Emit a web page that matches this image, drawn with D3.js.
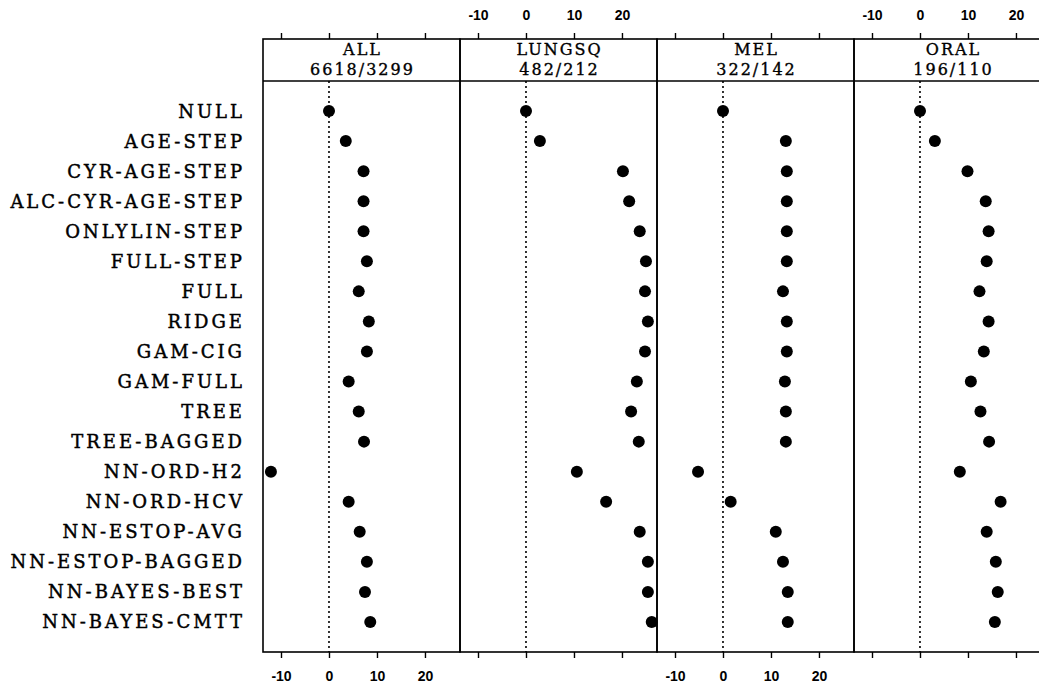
<!DOCTYPE html>
<html>
<head>
<meta charset="utf-8">
<script src="https://cdn.jsdelivr.net/npm/d3@7"></script>
<style>
  body { margin: 0; background: #fff; }
  svg { display: block; }
  .row-label { font-family: "DejaVu Serif", serif; font-size: 18px; letter-spacing: 3px; stroke: #000; stroke-width: 0.45px; }
  .strip { font-family: "DejaVu Serif", serif; font-size: 16px; letter-spacing: 2px; stroke: #000; stroke-width: 0.35px; }
  .tick text { font-family: "Liberation Sans", Arial, sans-serif; font-size: 14px; font-weight: bold; }
</style>
</head>
<body>
<svg id="chart" width="1039" height="689"></svg>
<script>
const methods = [
    'NULL', 'AGE-STEP', 'CYR-AGE-STEP', 'ALC-CYR-AGE-STEP', 'ONLYLIN-STEP',
    'FULL-STEP', 'FULL', 'RIDGE', 'GAM-CIG', 'GAM-FULL', 'TREE', 'TREE-BAGGED',
    'NN-ORD-H2', 'NN-ORD-HCV', 'NN-ESTOP-AVG', 'NN-ESTOP-BAGGED',
    'NN-BAYES-BEST', 'NN-BAYES-CMTT'
];
const panelNames = ['ALL', 'LUNGSQ', 'MEL', 'ORAL'];
const panelCounts = ['6618/3299', '482/212', '322/142', '196/110'];

const allValues = [0, 3.5, 7.2, 7.2, 7.2, 7.9, 6.2, 8.3, 7.9, 4.1, 6.2, 7.3, -12.1, 4.1, 6.4, 7.9, 7.5, 8.6];
const lungsqValues = [0, 2.9, 20.2, 21.5, 23.7, 25.0, 24.8, 25.4, 24.8, 23.1, 21.9, 23.5, 10.6, 16.7, 23.7, 25.4, 25.4, 26.2];
const melValues = [0, 13.1, 13.3, 13.3, 13.3, 13.3, 12.5, 13.3, 13.3, 12.9, 13.1, 13.1, -5.2, 1.6, 11.0, 12.5, 13.5, 13.5];
const oralValues = [0, 3.1, 9.9, 13.7, 14.3, 13.9, 12.4, 14.3, 13.3, 10.6, 12.6, 14.4, 8.3, 16.8, 13.9, 15.8, 16.2, 15.6];

const xTicks = [-10, 0, 10, 20];
const xDomain = [-13.75, 27.3];

const panelValues = [allValues, lungsqValues, melValues, oralValues];

const svg = d3.select('#chart');
const firstLeft = 263;
const panelWidth = 197;
const frameTop = 39;
const stripBottom = 81;
const frameBottom = 652;

const yScale = d3.scalePoint().domain(methods).range([stripBottom, frameBottom]).padding(1);

// method labels on the left
svg.selectAll('.row-label')
    .data(methods)
    .enter()
    .append('text')
    .attr('class', 'row-label')
    .attr('x', 245)
    .attr('y', d => yScale(d))
    .attr('dy', '0.36em')
    .attr('text-anchor', 'end')
    .text(d => d);

panelNames.forEach((name, p) => {
    const left = firstLeft + p * panelWidth;
    const xScale = d3.scaleLinear().domain(xDomain).range([left, left + panelWidth]);
    const g = svg.append('g');

    // dotted reference line at zero
    g.append('line')
        .attr('x1', xScale(0)).attr('x2', xScale(0))
        .attr('y1', stripBottom).attr('y2', frameBottom)
        .attr('stroke', '#000')
        .attr('stroke-width', 1.6)
        .attr('stroke-dasharray', '2,3');

    // frame and strip
    g.append('rect')
        .attr('x', left).attr('y', frameTop)
        .attr('width', panelWidth).attr('height', frameBottom - frameTop)
        .attr('fill', 'none')
        .attr('stroke', '#000')
        .attr('stroke-width', 1.6);
    g.append('line')
        .attr('x1', left).attr('x2', left + panelWidth)
        .attr('y1', stripBottom).attr('y2', stripBottom)
        .attr('stroke', '#000')
        .attr('stroke-width', 1.4);

    const cx = left + panelWidth / 2;
    g.append('text').attr('class', 'strip')
        .attr('x', cx + 1).attr('y', 55)
        .attr('text-anchor', 'middle')
        .text(name);
    g.append('text').attr('class', 'strip')
        .attr('x', cx + 1).attr('y', 75)
        .attr('text-anchor', 'middle')
        .text(panelCounts[p]);

    // axes: labels alternate between top and bottom
    const topAxis = d3.axisTop(xScale).tickValues(xTicks).tickSize(6).tickPadding(13)
        .tickFormat(d => (p % 2 === 1 ? String(d) : ''));
    const bottomAxis = d3.axisBottom(xScale).tickValues(xTicks).tickSize(6).tickPadding(13)
        .tickFormat(d => (p % 2 === 0 ? String(d) : ''));

    g.append('g').attr('transform', `translate(0, ${frameTop})`).call(topAxis)
        .call(a => a.select('.domain').remove())
        .call(a => a.selectAll('line').attr('stroke-width', 1.4));
    g.append('g').attr('transform', `translate(0, ${frameBottom})`).call(bottomAxis)
        .call(a => a.select('.domain').remove())
        .call(a => a.selectAll('line').attr('stroke-width', 1.4));

    // points
    g.selectAll('.dot')
        .data(panelValues[p])
        .enter()
        .append('circle')
        .attr('class', 'dot')
        .attr('cx', d => xScale(d))
        .attr('cy', (d, i) => yScale(methods[i]))
        .attr('r', 6)
        .attr('fill', '#000');
});
</script>
</body>
</html>
